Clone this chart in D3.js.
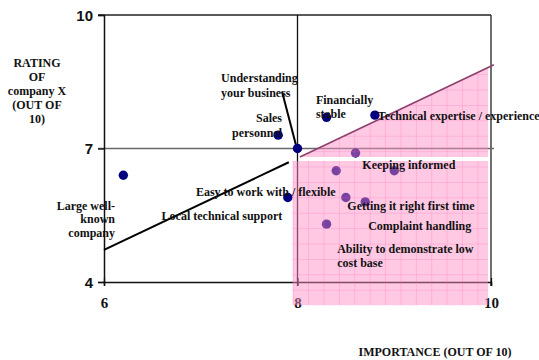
<!DOCTYPE html>
<html>
<head>
<meta charset="utf-8">
<script src="https://cdn.jsdelivr.net/npm/d3@7"></script>
<style>
  html, body { margin: 0; padding: 0; background: #fff; }
  svg { display: block; }
  .lbl { font-family: "Liberation Serif", "Times New Roman", serif; font-weight: bold; font-size: 12px; fill: #111; }
  .ttl { font-family: "Liberation Serif", "Times New Roman", serif; font-weight: bold; font-size: 12px; fill: #111; }
  .ytick { font-family: "Liberation Sans", Arial, sans-serif; font-weight: bold; font-size: 15px; fill: #111; }
  .xtick { font-family: "Liberation Serif", "Times New Roman", serif; font-weight: bold; font-size: 15px; fill: #111; }
</style>
</head>
<body>
<svg id="chart" width="539" height="360"></svg>
<script>
// Attribute ratings: importance (x) vs. rating of company X (y)
const importance = [6.2, 7.8, 8.0, 8.3, 8.8, 7.9, 8.6, 8.4, 9.0, 8.5, 8.7, 8.3];
const rating     = [6.4, 7.3, 7.0, 7.7, 7.75, 5.9, 6.9, 6.5, 6.5, 5.9, 5.8, 5.3];

const xTicks = [6, 8, 10];
const yTicks = [4, 7, 10];

// Trend / threshold line and the "priority" zone it bounds
const trendX = [6, 10.03];
const trendY = [4.72, 8.88];
const zoneLeft = 7.95, zoneRight = 9.97;
const zoneSplitUpper = 6.81, zoneSplitLower = 6.72, zoneBottom = 3.48;

// Leader line for "Understanding your business"
const leaderX = [7.84, 7.99];
const leaderY = [8.28, 7.03];

// Text annotations (anchor in data units)
const labels = [
  { lines: ["Understanding", "your  business"], x: 7.21, y: 8.49, anchor: "start", gap: 15 },
  { lines: ["Sales", "personnel"], x: 7.84, y: 7.60, anchor: "end", gap: 15 },
  { lines: ["Financially", "stable"], x: 8.19, y: 8.00, anchor: "start", gap: 13.5 },
  { lines: ["Technical expertise / experience"], x: 8.83, y: 7.64, anchor: "start" },
  { lines: ["Keeping informed"], x: 8.67, y: 6.54, anchor: "start" },
  { lines: ["Easy to work with / flexible"], x: 6.95, y: 5.93, anchor: "start" },
  { lines: ["Local technical support"], x: 6.595, y: 5.39, anchor: "start" },
  { lines: ["Large well-", "known", "company"], x: 6.114, y: 5.62, anchor: "end", gap: 13.4 },
  { lines: ["Getting it right first time"], x: 8.515, y: 5.62, anchor: "start" },
  { lines: ["Complaint handling"], x: 8.73, y: 5.17, anchor: "start" },
  { lines: ["Ability to demonstrate low", "cost base"], x: 8.41, y: 4.645, anchor: "start", gap: 13.4 }
];
const yTitle = ["RATING", "OF", "company X", "(OUT OF", "10)"];
const xTitle = "IMPORTANCE (OUT OF 10)";

const svg = d3.select("#chart");
const x = d3.scaleLinear().domain([6, 10]).range([104, 491]);
const y = d3.scaleLinear().domain([4, 10]).range([282, 15]);

// Pattern for the shaded zone: translucent pink with a fine grid
const defs = svg.append("defs");
const step = 15.4;
const pat = defs.append("pattern")
  .attr("id", "zone")
  .attr("patternUnits", "userSpaceOnUse")
  .attr("x", x(zoneLeft)).attr("y", y(zoneBottom) - step * 20)
  .attr("width", step).attr("height", step);
pat.append("rect").attr("width", step).attr("height", step)
  .attr("fill", "rgb(255,140,198)").attr("fill-opacity", 0.47);
pat.append("path").attr("d", `M0,0V${step}M0,0H${step}`)
  .attr("stroke", "rgb(255,90,170)").attr("stroke-opacity", 0.45).attr("stroke-width", 1).attr("fill", "none");

// Frame and quadrant lines
const g = svg.append("g");
g.append("line").attr("x1", x(6) - 6).attr("x2", x(10)).attr("y1", y(10)).attr("y2", y(10))
  .attr("stroke", "#222").attr("stroke-width", 1.3);
g.append("line").attr("x1", x(10)).attr("x2", x(10)).attr("y1", y(10)).attr("y2", y(4) + 4)
  .attr("stroke", "#222").attr("stroke-width", 1.3);
g.append("line").attr("x1", x(6) - 6).attr("x2", x(10) + 3).attr("y1", y(7)).attr("y2", y(7))
  .attr("stroke", "#6a6a6a").attr("stroke-width", 1.5);
g.append("line").attr("x1", x(8)).attr("x2", x(8)).attr("y1", y(10)).attr("y2", y(4) + 4)
  .attr("stroke", "#111").attr("stroke-width", 1.3);

// Axes
const yAxis = d3.axisLeft(y).tickValues(yTicks).tickSize(6).tickFormat(d3.format("d"));
const ya = svg.append("g").attr("transform", `translate(${x(6)},0)`).call(yAxis);
ya.select(".domain").attr("stroke", "#111").attr("stroke-width", 1.5);
ya.selectAll(".tick line").attr("stroke", "#111").attr("stroke-width", 1.3);
ya.selectAll(".tick text").attr("class", "ytick").attr("x", -11).attr("dy", "0.36em");

const xAxis = d3.axisBottom(x).tickValues(xTicks).tickSize(4).tickFormat(d3.format("d"));
const xa = svg.append("g").attr("transform", `translate(0,${y(4)})`).call(xAxis);
xa.select(".domain").attr("stroke", "#111").attr("stroke-width", 1.5);
xa.selectAll(".tick line").attr("stroke", "#111").attr("stroke-width", 1.3).attr("y1", -4);
xa.selectAll(".tick text").attr("class", "xtick").attr("y", 21).attr("dy", "0.36em");

// Trend line (black up to the shaded zone)
svg.append("line")
  .attr("x1", x(trendX[0])).attr("y1", y(trendY[0]))
  .attr("x2", x(zoneLeft - 0.04))
  .attr("y2", y(trendY[0] + (trendY[1] - trendY[0]) * (zoneLeft - 0.04 - trendX[0]) / (trendX[1] - trendX[0])))
  .attr("stroke", "#000").attr("stroke-width", 2);

// Leader line
svg.append("line")
  .attr("x1", x(leaderX[0])).attr("y1", y(leaderY[0]))
  .attr("x2", x(leaderX[1])).attr("y2", y(leaderY[1]))
  .attr("stroke", "#000").attr("stroke-width", 2);

// Points
svg.append("g").selectAll("circle")
  .data(importance.map((v, i) => [v, rating[i]]))
  .join("circle")
  .attr("cx", d => x(d[0])).attr("cy", d => y(d[1]))
  .attr("r", 4.7).attr("fill", "#00007f");

// Shaded zone (drawn over the points)
const trendAt = v => trendY[0] + (trendY[1] - trendY[0]) * (v - trendX[0]) / (trendX[1] - trendX[0]);
const xStart = trendX[0] + (zoneSplitUpper - trendY[0]) * (trendX[1] - trendX[0]) / (trendY[1] - trendY[0]);
const upper = [[xStart, zoneSplitUpper], [zoneRight, trendAt(zoneRight)], [zoneRight, zoneSplitUpper]];
svg.append("path")
  .attr("d", d3.line().x(d => x(d[0])).y(d => y(d[1]))(upper) + "Z")
  .attr("fill", "url(#zone)");
svg.append("rect")
  .attr("x", x(zoneLeft)).attr("y", y(zoneSplitLower))
  .attr("width", x(zoneRight) - x(zoneLeft)).attr("height", y(zoneBottom) - y(zoneSplitLower))
  .attr("fill", "url(#zone)");
// Zone edge along the trend line
svg.append("line")
  .attr("x1", x(xStart)).attr("y1", y(zoneSplitUpper))
  .attr("x2", x(trendX[1])).attr("y2", y(trendAt(trendX[1])))
  .attr("stroke", "#8e3f6e").attr("stroke-width", 1.6);

// Annotations
const lg = svg.append("g");
labels.forEach(l => {
  const t = lg.append("text").attr("class", "lbl")
    .attr("x", x(l.x)).attr("y", y(l.y)).attr("text-anchor", l.anchor);
  l.lines.forEach((s, i) => {
    t.append("tspan").attr("x", x(l.x)).attr("dy", i === 0 ? 0 : (l.gap || 13)).text(s);
  });
});

// Axis titles
const yt = svg.append("text").attr("class", "ttl").attr("text-anchor", "middle").attr("x", 37).attr("y", 67);
yTitle.forEach((s, i) => yt.append("tspan").attr("x", 37).attr("dy", i === 0 ? 0 : 14).text(s));
svg.append("text").attr("class", "ttl").attr("text-anchor", "middle")
  .attr("x", 435).attr("y", 356).text(xTitle);
</script>
</body>
</html>
